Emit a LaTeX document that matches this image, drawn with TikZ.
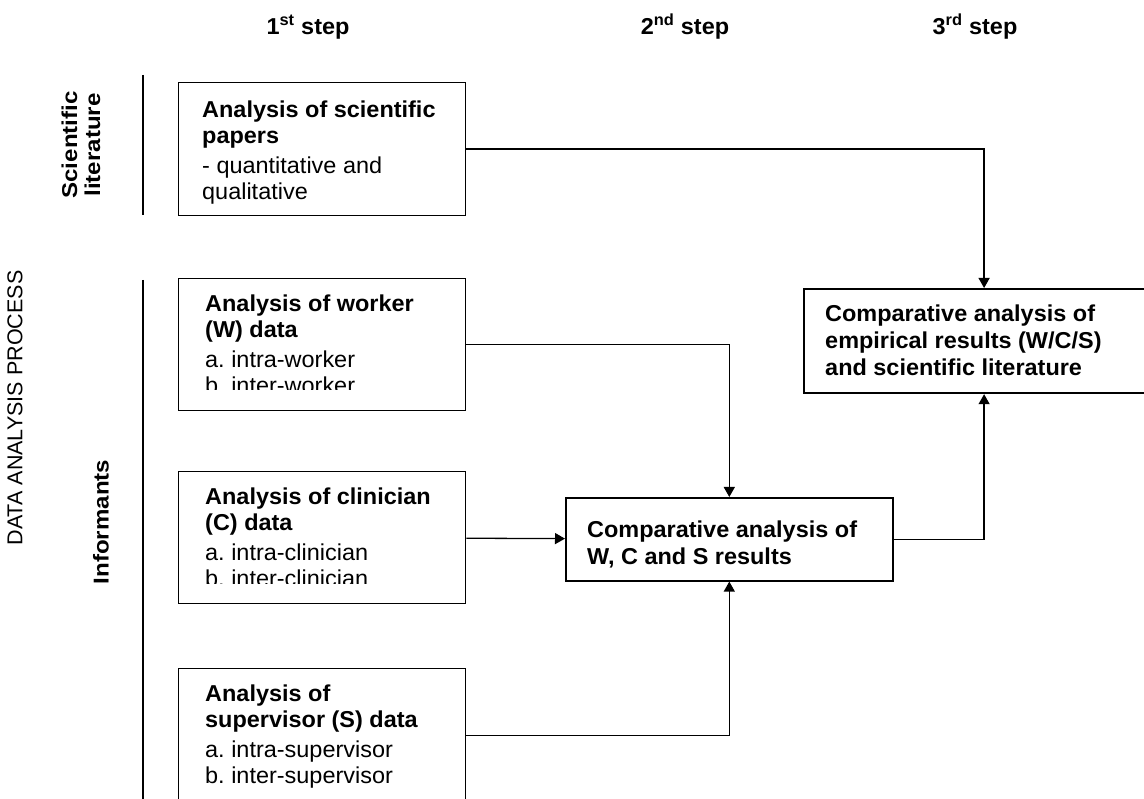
\documentclass[tikz,border=0pt]{standalone}
\usepackage{fontspec}
\setmainfont{Liberation Sans}
\newfontfamily\widefont{Liberation Sans}[FakeStretch=1.02]
\newfontfamily\longfont{Liberation Sans}[FakeStretch=1.12]
\usetikzlibrary{arrows.meta}

\tikzset{
    frame/.style={draw, line width=1.3pt, anchor=north west, inner sep=0pt,
                  minimum width=287pt},
    boxtext/.style={anchor=north west, inner sep=0pt, align=left,
                    font=\widefont\fontsize{23}{26}\selectfont\frenchspacing},
    heading/.style={anchor=base, font=\widefont\fontsize{23}{26}\selectfont\bfseries},
    sidelabel/.style={rotate=90, align=center, font=\fontsize{21.5}{22}\selectfont}
}

\begin{document}
\begin{tikzpicture}[x=1pt,y=-1pt]
        \useasboundingbox (0,0) rectangle (1144,799);
        \fill[white] (0,0) rectangle (1144,799);
        \clip (0,0) rectangle (1144,799);

        % steps
        \node[heading] (step1) at (308,35) {1\textsuperscript{st} step};
        \node[heading] (step2) at (685,35) {2\textsuperscript{nd} step};
        \node[heading] (step3) at (975,35) {3\textsuperscript{rd} step};

        % left side
        \begin{scope}[every node/.style={sidelabel}]
            \node (process) at (15,408) {DATA ANALYSIS PROCESS};
            \node[font=\longfont\fontsize{21.5}{23}\selectfont\bfseries] (lit) at (81,145) {Scientific\\literature};
            \node[font=\longfont\fontsize{21.5}{23}\selectfont\bfseries] (inf) at (101,522) {Informants};
        \end{scope}
        \draw[line width=2pt] (143,75) -- (143,215);
        \draw[line width=2pt] (143,280) -- (143,805);

        % boxes
        \node[frame, minimum height=133pt] (sci) at (178,82) {};
        \node[frame, minimum height=132pt] (wrk) at (178,278) {};
        \node[frame, minimum height=132pt] (cln) at (178,471) {};
        \node[frame, minimum height=133pt] (sup) at (178,668) {};
        \node[frame, line width=1.6pt, minimum width=327pt, minimum height=83pt] (cmpwcs) at (565,497) {};
        \node[frame, line width=2.2pt, minimum width=360pt, minimum height=104pt] (cmpall) at (803,288) {};

        % box texts
        \node[boxtext] (scitxt) at (202,100.2)
            {\textbf{Analysis of scientific}\\\textbf{papers}\\[4pt]- quantitative and\\qualitative};
        \begin{scope}
            \clip (178,278) rectangle (465,390);
            \node[boxtext] (wrktxt) at (205,294.2)
                {\textbf{Analysis of worker}\\\textbf{(W) data}\\[4pt]a. intra-worker\\b. inter-worker};
        \end{scope}
        \begin{scope}
            \clip (178,471) rectangle (465,583);
            \node[boxtext] (clntxt) at (205,487.2)
                {\textbf{Analysis of clinician}\\\textbf{(C) data}\\[4pt]a. intra-clinician\\b. inter-clinician};
        \end{scope}
        \node[boxtext] (suptxt) at (205,684.2)
            {\textbf{Analysis of}\\\textbf{supervisor (S) data}\\[4pt]a. intra-supervisor\\b. inter-supervisor};
        \node[boxtext] (cmpwcstxt) at (587,520.2)
            {\textbf{Comparative analysis of}\\[1pt]\textbf{W, C and S results}};
        \node[boxtext] (cmpalltxt) at (825,304.2)
            {\textbf{Comparative analysis of}\\[1pt]\textbf{empirical results (W/C/S)}\\[1pt]\textbf{and scientific literature}};

        % arrows
        \begin{scope}[>={Triangle[length=10pt,width=11pt]}, line width=1.3pt]
            \draw[->] (sci) -| (cmpall);
            \draw[->] (wrk) -| (cmpwcs);
            \draw[->] (cln) -- (cmpwcs);
            \draw[->] (sup) -| (cmpwcs);
            \draw[->] (cmpwcs) -| (cmpall);
        \end{scope}
\end{tikzpicture}
\end{document}
